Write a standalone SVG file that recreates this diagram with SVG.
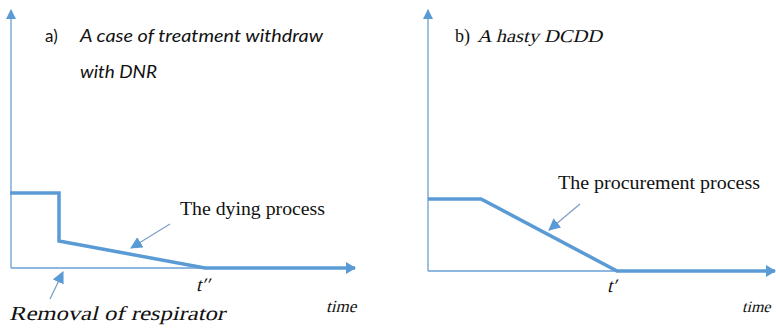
<svg xmlns="http://www.w3.org/2000/svg" width="776" height="335" viewBox="0 0 776 335">
<defs>
<style>
.axis{stroke:#6a9fd4;stroke-width:1.3;fill:none}
.curve{stroke:#5b9bd5;stroke-width:3.5;fill:none;stroke-linejoin:miter}
.ptr{stroke:#7f9ec9;stroke-width:1.3;fill:none}
.serif{font-family:"Liberation Serif","Times New Roman",serif;fill:#111111;font-style:normal}
.sans{font-family:Lato,"Liberation Sans",sans-serif;fill:#111111}
.it{font-style:italic}
.up{font-style:normal}
</style>
<marker id="ax" markerWidth="10" markerHeight="10" refX="9" refY="5" orient="auto" markerUnits="userSpaceOnUse">
<path d="M0,0 L10,5 L0,10 Z" fill="#5b9bd5"/>
</marker>
<marker id="big" markerWidth="10" markerHeight="12" refX="9" refY="6" orient="auto" markerUnits="userSpaceOnUse">
<path d="M0,0 L10,6 L0,12 Z" fill="#5b9bd5"/>
</marker>
<marker id="pt" markerWidth="12" markerHeight="12" refX="11" refY="6" orient="auto" markerUnits="userSpaceOnUse">
<path d="M0,0 L12,6 L0,12 Z" fill="#5b9bd5"/>
</marker>
</defs>
<rect width="776" height="335" fill="#ffffff"/>

<g id="connectors">
<line class="axis" x1="11" y1="268" x2="11" y2="10" marker-end="url(#ax)"/>
<line class="axis" x1="11" y1="268" x2="206" y2="268"/>
<polyline class="curve" points="10,193 59,193 59,241 205,268 355,268" marker-end="url(#big)"/>
<line class="ptr" x1="170" y1="224" x2="131" y2="248" marker-end="url(#pt)"/>
<line class="ptr" x1="50" y1="299" x2="63" y2="272" marker-end="url(#pt)"/>

<line class="axis" x1="428" y1="271" x2="428" y2="10" marker-end="url(#ax)"/>
<line class="axis" x1="428" y1="271" x2="618" y2="271"/>
<polyline class="curve" points="428,199 481,199 617,271 775,271" marker-end="url(#big)"/>
<line class="ptr" x1="580" y1="204" x2="549" y2="230" marker-end="url(#pt)"/>
</g>

<g id="title-a">
<text class="sans up" x="45" y="42" font-size="17">a)</text>
<text class="sans it" x="80" y="42" font-size="17" textLength="243" lengthAdjust="spacingAndGlyphs">A case of treatment withdraw</text>
<text class="sans it" x="80" y="78" font-size="17" textLength="77" lengthAdjust="spacingAndGlyphs">with DNR</text>
</g>

<g id="label-dying">
<text class="serif" x="180" y="215" font-size="18" textLength="145" lengthAdjust="spacingAndGlyphs">The dying process</text>
</g>
<g id="label-t2" transform="translate(196,291) skewX(-14)">
<text class="serif" x="0" y="0" font-size="19">t′′</text>
</g>
<g id="label-time-a" transform="translate(326,312) skewX(-14)">
<text class="serif" x="0" y="0" font-size="17">time</text>
</g>
<g id="label-removal" transform="translate(9,320) skewX(-14)">
<text class="serif" x="0" y="0" font-size="20" textLength="216" lengthAdjust="spacingAndGlyphs">Removal of respirator</text>
</g>

<g id="title-b">
<text class="serif" x="455" y="42" font-size="18">b)</text>
<text class="serif" transform="translate(477,42) skewX(-14)" x="0" y="0" font-size="18" textLength="125" lengthAdjust="spacingAndGlyphs">A hasty DCDD</text>
</g>
<g id="label-procurement">
<text class="serif" x="558" y="189" font-size="18" textLength="202" lengthAdjust="spacingAndGlyphs">The procurement process</text>
</g>
<g id="label-t1" transform="translate(607,292) skewX(-14)">
<text class="serif" x="0" y="0" font-size="19">t′</text>
</g>
<g id="label-time-b" transform="translate(742,312) skewX(-14)">
<text class="serif" x="0" y="0" font-size="16">time</text>
</g>
</svg>
